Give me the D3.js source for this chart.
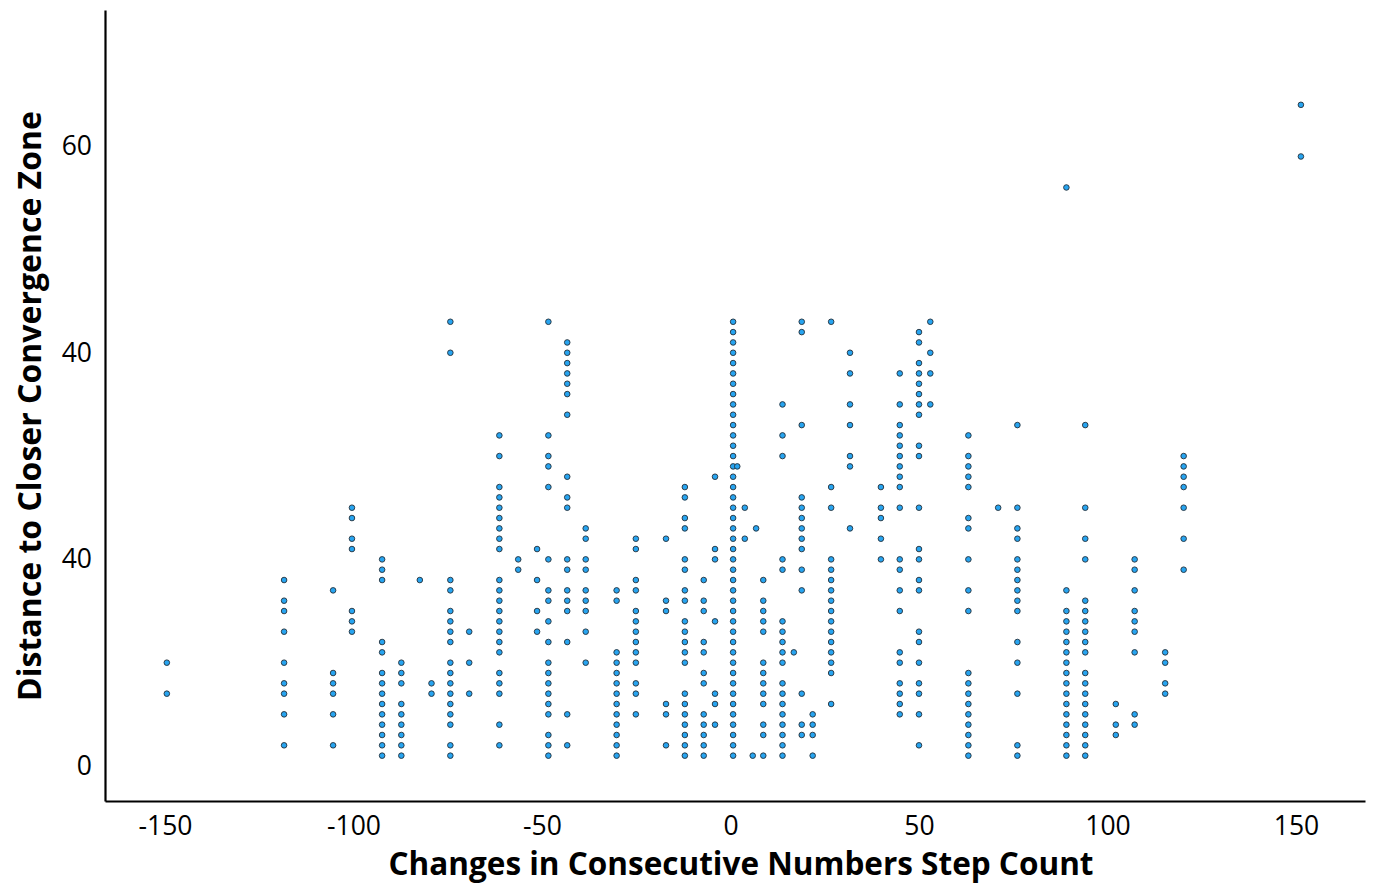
<!DOCTYPE html>
<html>
<head>
<meta charset="utf-8">
<script src="https://cdn.jsdelivr.net/npm/d3@7"></script>
<style>
  html, body { margin: 0; padding: 0; background: #fff; }
  svg { display: block; font-family: "Open Sans", "Noto Sans", sans-serif; }
</style>
</head>
<body>
<svg id="chart" width="1380" height="884"></svg>
<script>
// ---- data ----
const xTickValues = [-150, -100, -50, 0, 50, 100, 150];
const xTickLabels = ["-150", "-100", "-50", "0", "50", "100", "150"];
const yTickValues = [0, 20, 40, 60];
const yTickLabels = ["0", "40", "40", "60"];
const xTitle = "Changes in Consecutive Numbers Step Count";
const yTitle = "Distance to Closer Convergence Zone";

// x position of each vertical stack of points
const columnX = [
  -149.5, -118.4, -105.4, -100.4, -92.4, -87.3, -82.4, -79.3, -74.3, -69.3,
  -61.3, -56.3, -51.3, -48.3, -43.3, -38.4, -30.2, -25.1, -17.1, -12.1,
  -7.1, -4.1, 0.7, 1.8, 3.8, 5.9, 6.8, 8.7, 13.8, 16.8,
  18.9, 21.8, 26.7, 31.7, 39.9, 44.9, 50.0, 53.0, 63.1, 71.0,
  76.1, 89.1, 94.1, 102.2, 107.2, 115.3, 120.2, 151.3
];
// y values of the points in each stack
const columnY = [
  [10, 7],
  [18, 16, 15, 13, 10, 8, 7, 5, 2],
  [17, 9, 8, 7, 5, 2],
  [25, 24, 22, 21, 15, 14, 13],
  [20, 19, 18, 12, 11, 9, 8, 7, 6, 5, 4, 3, 2, 1],
  [10, 9, 8, 6, 5, 4, 3, 2, 1],
  [18],
  [8, 7],
  [43, 40, 18, 17, 15, 14, 13, 12, 10, 9, 8, 7, 6, 5, 4, 2, 1],
  [13, 10, 7],
  [32, 30, 27, 26, 25, 24, 23, 22, 21, 18, 17, 16, 15, 14, 13, 12, 11, 9, 8, 7, 4, 2],
  [20, 19],
  [21, 18, 15, 13],
  [43, 32, 30, 29, 27, 20, 17, 16, 14, 12, 10, 9, 8, 7, 6, 5, 3, 2, 1],
  [41, 40, 39, 38, 37, 36, 34, 28, 26, 25, 20, 19, 17, 16, 15, 12, 5, 2],
  [23, 22, 20, 19, 17, 16, 15, 13, 10],
  [17, 16, 11, 10, 9, 8, 7, 6, 5, 4, 3, 2, 1],
  [22, 21, 18, 17, 15, 14, 13, 12, 11, 10, 8, 7, 5],
  [22, 16, 15, 6, 5, 2],
  [27, 26, 24, 23, 20, 19, 17, 16, 14, 13, 12, 11, 10, 7, 6, 5, 4, 3, 2, 1],
  [18, 16, 15, 12, 11, 9, 8, 5, 4, 3, 2, 1],
  [28, 21, 20, 14, 7, 6, 4],
  [43, 42, 41, 40, 39, 38, 37, 36, 35, 34, 33, 32, 31, 30, 29, 28, 27, 26, 25, 24, 23, 22,
   21, 20, 19, 18, 17, 16, 15, 14, 13, 12, 11, 10, 9, 8, 7, 6, 5, 4, 3, 2, 1],
  [29],
  [25, 22],
  [1],
  [23],
  [18, 16, 15, 14, 13, 10, 9, 8, 7, 6, 4, 3, 1],
  [35, 32, 30, 20, 19, 14, 13, 12, 11, 10, 8, 7, 6, 5, 4, 3, 2, 1],
  [11],
  [43, 42, 33, 26, 25, 24, 23, 22, 21, 19, 17, 7, 4, 3],
  [5, 4, 3, 1],
  [43, 27, 25, 20, 19, 18, 17, 16, 15, 14, 13, 12, 11, 10, 9, 6],
  [40, 38, 35, 33, 30, 29, 23],
  [27, 25, 24, 22, 20],
  [38, 35, 33, 32, 31, 30, 29, 28, 27, 25, 20, 19, 17, 15, 11, 10, 8, 7, 6, 5],
  [42, 41, 39, 38, 37, 36, 35, 34, 31, 30, 25, 21, 20, 18, 17, 13, 12, 10, 8, 7, 5, 2],
  [43, 40, 38, 35],
  [32, 30, 29, 28, 27, 24, 23, 20, 17, 15, 9, 8, 7, 6, 5, 4, 3, 2, 1],
  [25],
  [33, 25, 23, 22, 20, 19, 18, 17, 16, 15, 12, 10, 7, 2, 1],
  [56, 17, 15, 14, 13, 12, 11, 10, 9, 8, 7, 6, 5, 4, 3, 2, 1],
  [33, 25, 22, 20, 16, 15, 14, 13, 12, 11, 9, 8, 7, 6, 5, 4, 3, 2, 1],
  [6, 4, 3],
  [20, 19, 17, 15, 14, 13, 11, 5, 4],
  [11, 10, 8, 7],
  [30, 29, 28, 27, 25, 22, 19],
  [64, 59]
];

// flatten into point table for the library
const points = [];
columnX.forEach((xv, i) => columnY[i].forEach(yv => points.push({ x: xv, y: yv })));

// ---- layout ----
const plotLeft = 105, plotRight = 1365, plotTop = 10, plotBottom = 801;
const svg = d3.select("#chart");

const x = d3.scaleLinear().domain([-165.9, 168.3]).range([plotLeft, plotRight]);
const y = d3.scaleLinear().domain([-3.39, 73.18]).range([plotBottom, plotTop]);

// points
svg.append("g")
  .selectAll("circle")
  .data(points)
  .join("circle")
  .attr("cx", d => x(d.x))
  .attr("cy", d => y(d.y))
  .attr("r", 2.8)
  .attr("fill", "#27a4f0")
  .attr("stroke", "#24303a")
  .attr("stroke-width", 0.9);

// x axis
const xAxis = svg.append("g")
  .attr("transform", `translate(0,${plotBottom})`)
  .call(d3.axisBottom(x)
    .tickValues(xTickValues)
    .tickFormat((d, i) => xTickLabels[i])
    .tickSize(0)
    .tickPadding(15));
xAxis.select(".domain").attr("stroke", "#000").attr("stroke-width", 2.2);
xAxis.selectAll("text").attr("font-size", 26.5).attr("fill", "#000")
  .attr("font-family", '"Open Sans", sans-serif');

// y axis
const yAxis = svg.append("g")
  .attr("transform", `translate(${plotLeft},0)`)
  .call(d3.axisLeft(y)
    .tickValues(yTickValues)
    .tickFormat((d, i) => yTickLabels[i])
    .tickSize(0)
    .tickPadding(13));
yAxis.select(".domain").attr("stroke", "#000").attr("stroke-width", 2.2);
yAxis.selectAll("text").attr("font-size", 26.5).attr("fill", "#000")
  .attr("font-family", '"Open Sans", sans-serif');

// axis titles
svg.append("text")
  .attr("x", 741)
  .attr("y", 875)
  .attr("text-anchor", "middle")
  .attr("font-size", 31.5)
  .attr("font-weight", 700)
  .attr("fill", "#000")
  .text(xTitle);

svg.append("text")
  .attr("transform", "translate(41,406) rotate(-90)")
  .attr("text-anchor", "middle")
  .attr("font-size", 32)
  .attr("font-weight", 700)
  .attr("fill", "#000")
  .text(yTitle);
</script>
</body>
</html>
